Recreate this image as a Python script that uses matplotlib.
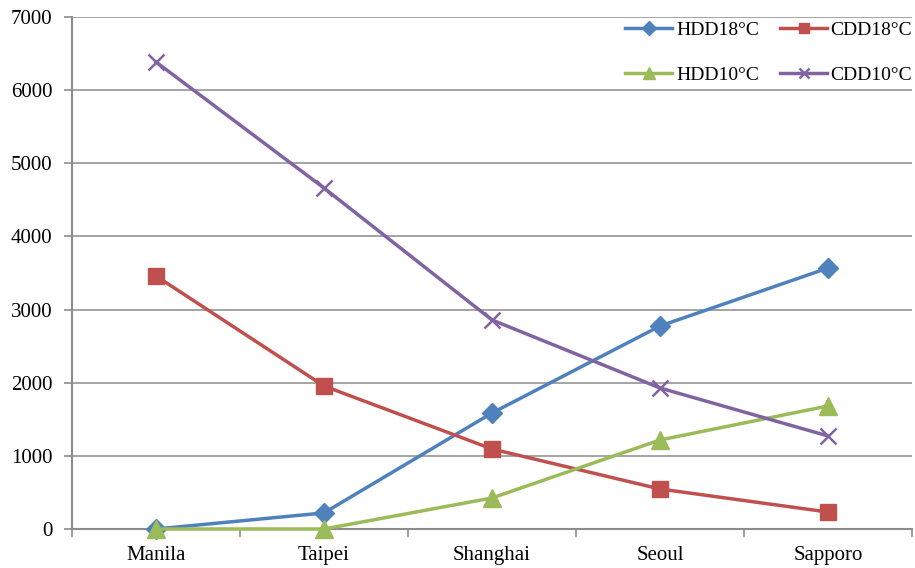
import matplotlib
matplotlib.use("Agg")
import matplotlib.pyplot as plt
import numpy as np

cities = ["Manila", "Taipei", "Shanghai", "Seoul", "Sapporo"]
hdd18 = [0, 220, 1586, 2775, 3568]
cdd18 = [3459, 1955, 1094, 547, 232]
hdd10 = [0, 0, 424, 1217, 1682]
cdd10 = [6385, 4662, 2858, 1928, 1272]
yticks = [0, 1000, 2000, 3000, 4000, 5000, 6000, 7000]

plt.rcParams["font.family"] = ["Liberation Serif", "DejaVu Serif"]

fig = plt.figure(figsize=(9.15, 5.68), dpi=100)
ax = fig.add_axes([72 / 915, 1 - 529 / 568, 840 / 915, 512 / 568])

x = np.arange(len(cities))
grey = "#8c8c8c"
h1, = ax.plot(x, hdd18, color="#4F81BD", lw=2.5, marker="D", ms=10.5,
              label="HDD18°C", clip_on=False, zorder=3)
h2, = ax.plot(x, cdd18, color="#C0504D", lw=2.5, marker="s", ms=12,
              label="CDD18°C", clip_on=False, zorder=3)
h3, = ax.plot(x, hdd10, color="#9BBB59", lw=2.5, marker="^", ms=13,
              label="HDD10°C", clip_on=False, zorder=3)
h4, = ax.plot(x, cdd10, color="#8064A2", lw=2.5, marker="x", ms=12, mew=1.8,
              label="CDD10°C", clip_on=False, zorder=3)

ax.set_xlim(-0.5, len(cities) - 0.5)
ax.set_ylim(0, 7000)
ax.set_yticks(yticks)
ax.set_yticklabels([str(v) for v in yticks])
ax.yaxis.grid(True, color=grey, lw=1.1)
ax.set_axisbelow(True)

ax.set_xticks(x)
ax.set_xticklabels(cities)
ax.set_xticks(np.arange(-0.5, len(cities)), minor=True)
ax.tick_params(axis="x", which="major", length=0, pad=12, labelsize=15)
ax.tick_params(axis="x", which="minor", length=6, color=grey, width=1.2)
ax.tick_params(axis="y", length=6, color=grey, width=1.2, labelsize=15, pad=8)

for s in ["top", "right"]:
    ax.spines[s].set_visible(False)
for s in ["left", "bottom"]:
    ax.spines[s].set_color(grey)
    ax.spines[s].set_linewidth(1.5)

ax.legend(handles=[h1, h3, h2, h4], ncol=2, loc="upper right",
          bbox_to_anchor=(1.012, 1.01), frameon=False, fontsize=14,
          labelspacing=1.4, columnspacing=1.1, handlelength=2.4,
          handletextpad=0.2, markerscale=0.65, borderaxespad=0.1)

fig.savefig("out.png", dpi=100)
